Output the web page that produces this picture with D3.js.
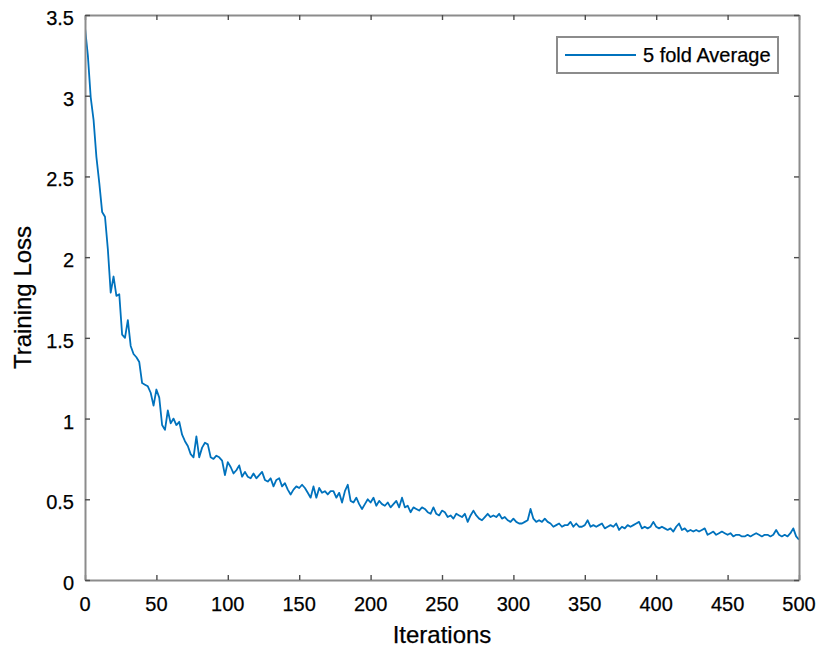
<!DOCTYPE html>
<html>
<head>
<meta charset="utf-8">
<script src="https://cdn.jsdelivr.net/npm/d3@7"></script>
<style>
  html, body { margin: 0; padding: 0; background: #fff; }
  svg { display: block; }
  text { font-family: "Liberation Sans", Arial, Helvetica, sans-serif; fill: #000; stroke: #000; stroke-width: 0.25px; }
</style>
</head>
<body>
<svg id="chart" width="819" height="650"></svg>
<script>
// ---- data ----
const iterStep = 2; // one value every 2 iterations
const lossValues = [
  3.42, 3.25, 2.99, 2.85, 2.62, 2.46, 2.28, 2.25, 2.05, 1.78,
  1.88, 1.76, 1.77, 1.52, 1.50, 1.61, 1.45, 1.40, 1.38, 1.35,
  1.22, 1.21, 1.20, 1.16, 1.08, 1.18, 1.13, 0.96, 0.93, 1.05,
  0.97, 1.00, 0.96, 0.98, 0.90, 0.86, 0.83, 0.78, 0.76, 0.89,
  0.76, 0.82, 0.85, 0.84, 0.76, 0.75, 0.77, 0.76, 0.74, 0.65,
  0.73, 0.70, 0.66, 0.68, 0.71, 0.64, 0.67, 0.64, 0.63, 0.66,
  0.63, 0.65, 0.67, 0.62, 0.61, 0.63, 0.58, 0.62, 0.63, 0.58,
  0.60, 0.56, 0.53, 0.56, 0.58, 0.57, 0.59, 0.57, 0.54, 0.51,
  0.58, 0.51, 0.57, 0.54, 0.55, 0.53, 0.55, 0.55, 0.51, 0.54,
  0.48, 0.55, 0.59, 0.49, 0.48, 0.51, 0.47, 0.44, 0.47, 0.50,
  0.48, 0.51, 0.46, 0.49, 0.47, 0.46, 0.48, 0.45, 0.47, 0.49,
  0.45, 0.51, 0.45, 0.46, 0.42, 0.45, 0.44, 0.43, 0.45, 0.44,
  0.42, 0.41, 0.45, 0.41, 0.40, 0.43, 0.42, 0.39, 0.40, 0.38,
  0.41, 0.40, 0.39, 0.41, 0.36, 0.40, 0.43, 0.40, 0.38, 0.37,
  0.39, 0.41, 0.39, 0.40, 0.39, 0.41, 0.38, 0.39, 0.37, 0.36,
  0.38, 0.36, 0.35, 0.35, 0.36, 0.37, 0.44, 0.38, 0.36, 0.37,
  0.36, 0.38, 0.36, 0.35, 0.33, 0.34, 0.35, 0.33, 0.34, 0.34,
  0.36, 0.33, 0.35, 0.33, 0.33, 0.34, 0.37, 0.33, 0.34, 0.33,
  0.34, 0.35, 0.32, 0.33, 0.34, 0.33, 0.35, 0.31, 0.33, 0.32,
  0.34, 0.33, 0.34, 0.35, 0.36, 0.32, 0.33, 0.32, 0.33, 0.36,
  0.33, 0.32, 0.33, 0.32, 0.31, 0.32, 0.30, 0.33, 0.35, 0.31,
  0.32, 0.30, 0.31, 0.30, 0.31, 0.30, 0.31, 0.32, 0.28, 0.29,
  0.30, 0.28, 0.29, 0.30, 0.29, 0.28, 0.29, 0.27, 0.28, 0.28,
  0.27, 0.27, 0.28, 0.27, 0.28, 0.29, 0.28, 0.27, 0.28, 0.28,
  0.27, 0.28, 0.31, 0.28, 0.27, 0.28, 0.27, 0.29, 0.32, 0.27,
  0.25
];
const xTickValues = [0, 50, 100, 150, 200, 250, 300, 350, 400, 450, 500];
const yTickValues = [0, 0.5, 1, 1.5, 2, 2.5, 3, 3.5];
const yTickLabels = ["0", "0.5", "1", "1.5", "2", "2.5", "3", "3.5"];
const seriesName = "5 fold Average";
const xLabel = "Iterations";
const yLabel = "Training Loss";

// ---- layout ----
const svg = d3.select("#chart");
const L = 85, R = 799, T = 15, B = 580;
const x = d3.scaleLinear().domain([0, 500]).range([L, R]);
const y = d3.scaleLinear().domain([0, 3.5]).range([B, T]);

const axisColor = "#8c8c8c";
const tickColor = "#4d4d4d";
const lineColor = "#0072BD";

// data line (clipped to plot)
svg.append("clipPath").attr("id", "clip")
  .append("rect").attr("x", L).attr("y", T).attr("width", R - L).attr("height", B - T);

const pts = lossValues.map((v, i) => [i * iterStep, v]);
svg.append("path")
  .datum(pts)
  .attr("clip-path", "url(#clip)")
  .attr("fill", "none")
  .attr("stroke", lineColor)
  .attr("stroke-width", 1.8)
  .attr("stroke-linejoin", "round")
  .attr("d", d3.line().x(d => x(d[0])).y(d => y(d[1])));

// axes box: bottom/top/left/right with inward ticks
function styleAxis(g) {
  g.select(".domain").attr("stroke", axisColor).attr("stroke-width", 2);
  g.selectAll(".tick line").attr("stroke", tickColor).attr("stroke-width", 1.4);
  g.selectAll(".tick text").remove();
}
svg.append("g").attr("transform", `translate(0,${B})`)
  .call(d3.axisBottom(x).tickValues(xTickValues).tickSizeInner(-5).tickSizeOuter(0))
  .call(styleAxis);
svg.append("g").attr("transform", `translate(0,${T})`)
  .call(d3.axisTop(x).tickValues(xTickValues).tickSizeInner(-5).tickSizeOuter(0))
  .call(styleAxis);
svg.append("g").attr("transform", `translate(${L},0)`)
  .call(d3.axisLeft(y).tickValues(yTickValues).tickSizeInner(-5).tickSizeOuter(0))
  .call(styleAxis);
svg.append("g").attr("transform", `translate(${R},0)`)
  .call(d3.axisRight(y).tickValues(yTickValues).tickSizeInner(-5).tickSizeOuter(0))
  .call(styleAxis);

// tick labels
svg.append("g").selectAll("text").data(xTickValues).join("text")
  .attr("x", d => x(d)).attr("y", 611)
  .attr("text-anchor", "middle")
  .style("font-size", "20px")
  .text(d => d);
svg.append("g").selectAll("text").data(yTickValues).join("text")
  .attr("x", 74).attr("y", d => y(d) + 10)
  .attr("text-anchor", "end")
  .style("font-size", "20px")
  .text((d, i) => yTickLabels[i]);

// axis titles
svg.append("text")
  .attr("x", (L + R) / 2).attr("y", 643)
  .attr("text-anchor", "middle")
  .style("font-size", "24px")
  .text(xLabel);
svg.append("text")
  .attr("transform", `translate(31,${(T + B) / 2}) rotate(-90)`)
  .attr("text-anchor", "middle")
  .style("font-size", "24px")
  .text(yLabel);

// legend
const lg = svg.append("g");
lg.append("rect")
  .attr("x", 557).attr("y", 37).attr("width", 221).attr("height", 36)
  .attr("fill", "#fff").attr("stroke", axisColor).attr("stroke-width", 2);
lg.append("line")
  .attr("x1", 565).attr("x2", 636).attr("y1", 55).attr("y2", 55)
  .attr("stroke", lineColor).attr("stroke-width", 1.8);
lg.append("text")
  .attr("x", 643).attr("y", 62)
  .style("font-size", "20px")
  .text(seriesName);
</script>
</body>
</html>
